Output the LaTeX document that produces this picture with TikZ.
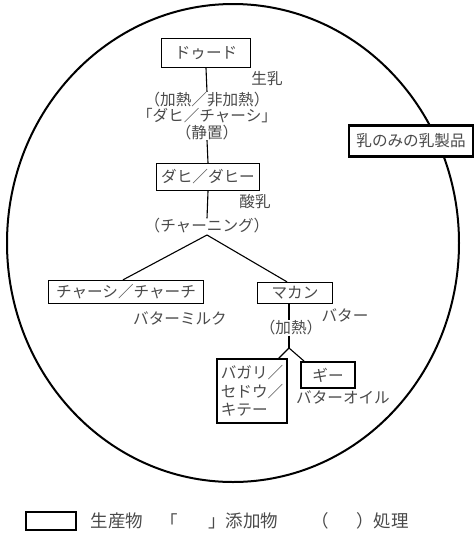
\documentclass[tikz,border=0pt]{standalone}
\usepackage{fontspec}
\setmainfont{Noto Sans CJK JP}
\usetikzlibrary{positioning}
\definecolor{txt}{HTML}{4A4A4A}
\tikzset{
  lbl/.style={text=txt, inner sep=0pt, font=\fontsize{15.6}{16.5}\selectfont},
  prod/.style={lbl, draw=black, line width=1.3pt, fill=white},
  conn/.style={draw=black, line width=1.1pt},
  leg/.style={text=txt, inner sep=0pt, font=\fontsize{17.5}{19}\selectfont}
}
\begin{document}
\begin{tikzpicture}[x=1pt,y=-1pt]
\useasboundingbox (0,0) rectangle (475,539);
% outer ellipse
\draw[line width=2pt] (233,243) ellipse [x radius=226, y radius=239];

% nodes
\node[prod, minimum width=89pt, minimum height=29pt] (doud) at (206,53) {ドゥード};
\node[lbl] (seinyu) at (267,79) {生乳};
\node[lbl, align=center] (proc1) at (207,116) {（加熱／非加熱）\\「ダヒ／チャーシ」\\（静置）};
\node[prod, minimum width=103pt, minimum height=27pt] (dahi) at (208,177) {ダヒ／ダヒー};
\node[lbl] (sannyu) at (255,202) {酸乳};
\node[lbl] (churn) at (207,226) {（チャーニング）};
\coordinate (apex) at (207,235);
\node[prod, minimum width=155pt, minimum height=23pt] (chasi) at (126,292) {チャーシ／チャーチ};
\node[prod, minimum width=75pt, minimum height=21pt] (makan) at (295,293) {マカン};
\node[lbl] (bmilk) at (180,318) {バターミルク};
\node[lbl] (butter) at (345,315) {バター};
\node[lbl] (heat) at (291,328) {（加熱）};
\coordinate (apex2) at (289,348);
\node[prod, minimum width=70pt, minimum height=64pt, align=left] (bagari) at (252,391) {バガリ／\\[2pt]セドウ／\\[2pt]キテー};
\node[prod, minimum width=54pt, minimum height=26pt] (ghee) at (328,375) {ギー};
\node[lbl] (boil) at (343,397) {バターオイル};
\node[prod, line width=2.2pt, minimum width=124pt, minimum height=31pt] (nyu) at (411,141) {乳のみの乳製品};

% connectors
\draw[conn] (doud.south) -- (proc1.north);
\draw[conn] (proc1.south) -- (dahi.north);
\draw[conn] (dahi.south) -- (churn.north);
\draw[conn] ([xshift=-3pt]chasi.north) -- (apex) -- ([xshift=-8pt]makan.north);
\draw[conn] ([xshift=-6pt]makan.south) -- ([xshift=-2pt]heat.north);
\draw[conn] ([xshift=-2pt]heat.south) -- (apex2);
\draw[conn] ([xshift=-9pt]bagari.north east) -- (apex2) -- ([xshift=4pt]ghee.north west);

% legend
\node[draw=black, line width=1.2pt, minimum width=50pt, minimum height=18pt, inner sep=0pt] (legbox) at (51,521) {};
\node[leg] (l1) at (117,521) {生産物};
\node[leg, anchor=west] (l2) at (160,521) {「};
\node[leg, anchor=west] (l3) at (208,521) {」添加物};
\node[leg, anchor=west] (l4) at (311,521) {（};
\node[leg, anchor=west] (l5) at (356,521) {）処理};
\end{tikzpicture}
\end{document}
